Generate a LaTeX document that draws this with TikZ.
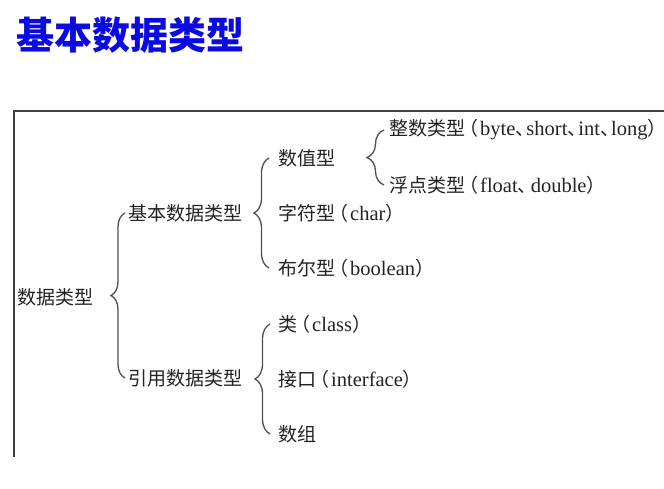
\documentclass[tikz,border=0pt]{standalone}
\usepackage{fontspec}
\setmainfont{Liberation Serif}
\newfontfamily\cjk{Noto Sans CJK SC}
\usetikzlibrary{decorations.pathreplacing}
\definecolor{titleblue}{RGB}{10,10,225}
\definecolor{txt}{RGB}{35,35,35}
\definecolor{brc}{RGB}{80,80,80}
\newcommand{\zh}[1]{{\cjk #1}}
\newcommand{\la}[1]{{\fontsize{20.5}{22}\selectfont #1}}
\newcommand{\lp}{\kern-6pt\zh{（}\kern2pt}
\newcommand{\dn}{\zh{、}\kern-6pt}
\newcommand{\dnn}{\zh{、}\kern-8pt}
\begin{document}
\begin{tikzpicture}[x=1pt,y=-1pt,
  lbl/.style={anchor=west,inner sep=0pt,text=txt,font=\fontsize{19}{21}\selectfont},
  brc/.style={draw=brc,line width=1.3pt,decorate,decoration={brace,amplitude=#1}},
  frame/.style={draw=brc!80!black,line width=1.2pt}]
\useasboundingbox (0,0) rectangle (664,488);
\clip (0,0) rectangle (664,488);
\fill[white] (0,0) rectangle (664,488);
% title
\node[anchor=west,inner sep=0pt,text=titleblue,font=\fontsize{38}{40}\selectfont\cjk\bfseries] (title) at (16,35) {基本数据类型};
% frame
\draw[frame] (664,111) -- (14,111) -- (14,457);
% nodes
\node[lbl] (root) at (17,297) {\zh{数据类型}};
\node[lbl] (basic) at (128,213) {\zh{基本数据类型}};
\node[lbl] (ref) at (128,378) {\zh{引用数据类型}};
\node[lbl] (num) at (278,158) {\zh{数值型}};
\node[lbl] (chr) at (278,213) {\zh{字符型}\lp\la{char}\zh{）}};
\node[lbl] (bool) at (278,268) {\zh{布尔型}\lp\la{boolean}\zh{）}};
\node[lbl] (int) at (389,130) {\zh{整数类型}\lp\la{byte}\dnn\la{short}\dnn\la{int}\dnn\la{long}\rlap{\zh{）}}};
\node[lbl] (flt) at (389,185) {\zh{浮点类型}\lp\la{float}\dn\la{double}\zh{）}};
\node[lbl] (cls) at (278,324) {\zh{类}\lp\la{class}\zh{）}};
\node[lbl] (ifc) at (278,379) {\zh{接口}\lp\la{interface}\zh{）}};
\node[lbl] (arr) at (278,434) {\zh{数组}};
% brace end points
\coordinate (b1t) at (basic.west -| 125,0);
\coordinate (b1b) at (ref.west -| 125,0);
\coordinate (b2t) at (num.west -| 269,0);
\coordinate (b2b) at (bool.west -| 269,0);
\coordinate (b3t) at (int.west -| 384,0);
\coordinate (b3b) at (flt.west -| 384,0);
\coordinate (b4t) at (cls.west -| 270,0);
\coordinate (b4b) at (arr.west -| 270,0);
% braces
\draw[brc=14pt] (b1b) -- (b1t);
\draw[brc=15pt] (b2b) -- (b2t);
\draw[brc=17pt] (b3b) -- (b3t);
\draw[brc=15pt] (b4b) -- (b4t);
\end{tikzpicture}
\end{document}
